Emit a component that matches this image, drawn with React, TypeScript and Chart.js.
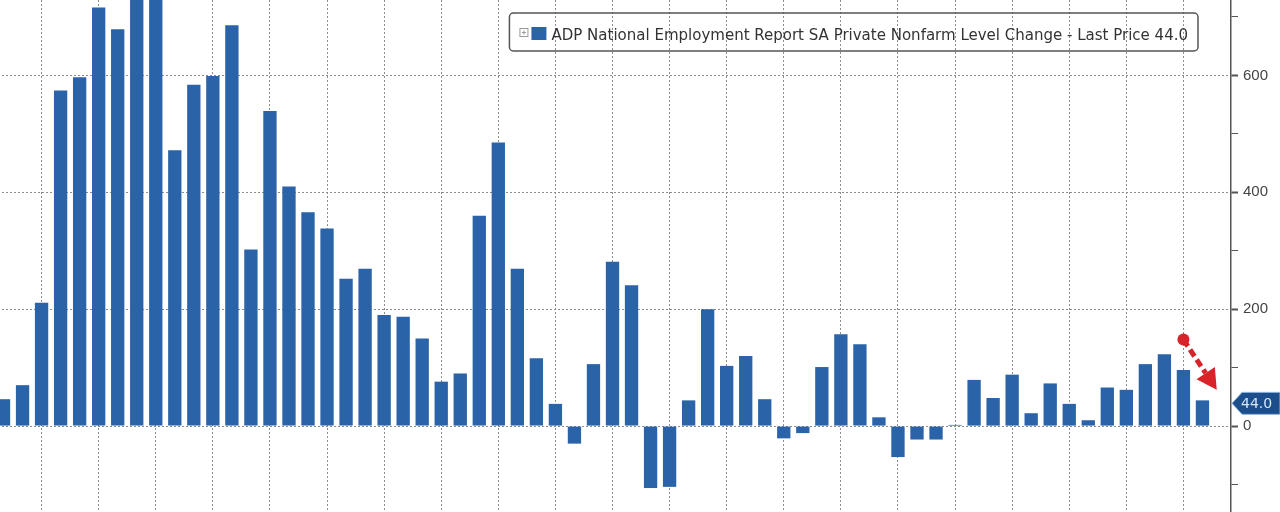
import React, { useEffect, useRef } from 'react';
import { Chart, registerables, Plugin } from 'chart.js';

Chart.register(...registerables);

// monthly slots; the last one is the empty slot Bloomberg leaves before the axis
const months = [
  'Nov 20', 'Dec 20',
  'Jan 21', 'Feb 21', 'Mar 21', 'Apr 21', 'May 21', 'Jun 21', 'Jul 21', 'Aug 21', 'Sep 21', 'Oct 21', 'Nov 21', 'Dec 21',
  'Jan 22', 'Feb 22', 'Mar 22', 'Apr 22', 'May 22', 'Jun 22', 'Jul 22', 'Aug 22', 'Sep 22', 'Oct 22', 'Nov 22', 'Dec 22',
  'Jan 23', 'Feb 23', 'Mar 23', 'Apr 23', 'May 23', 'Jun 23', 'Jul 23', 'Aug 23', 'Sep 23', 'Oct 23', 'Nov 23', 'Dec 23',
  'Jan 24', 'Feb 24', 'Mar 24', 'Apr 24', 'May 24', 'Jun 24', 'Jul 24', 'Aug 24', 'Sep 24', 'Oct 24', 'Nov 24', 'Dec 24',
  'Jan 25', 'Feb 25', 'Mar 25', 'Apr 25', 'May 25', 'Jun 25', 'Jul 25', 'Aug 25', 'Sep 25', 'Oct 25', 'Nov 25', 'Dec 25',
  'Jan 26', 'Feb 26', 'Mar 26',
];

// ADP private nonfarm level change, thousands
const privatePayrolls = [
  46, 70,
  211, 574, 597, 716, 679, 770, 760, 472, 584, 599, 686, 302,
  539, 410, 366, 338, 252, 269, 190, 187, 150, 76, 90, 360,
  485, 269, 116, 38, -30, 106, 281, 241, -106, -104, 44, 200,
  103, 120, 46, -21, -12, 101, 157, 140, 15, -53, -23, -23,
  2, 79, 48, 88, 22, 73, 38, 10, 66, 62, 106, 123,
  96, 44,
];

const yLabels = [0, 200, 400, 600];
const yMin = -147;
const yMax = 729;

const legendText = 'ADP National Employment Report SA Private Nonfarm Level Change - Last Price';

// red annotation arrow, in data units (category index, value)
const arrowStart = { x: 62, y: 148 };
const arrowEnd = { x: 63.75, y: 62 };

const BAR_BLUE = '#2a63a8';
const GRID = '#8c8c8c';
const RED = '#d8232a';

const overlay: Plugin<'bar'> = {
  id: 'overlay',
  afterDraw(chart) {
    const { ctx, chartArea: area, scales } = chart;
    const xs = scales.x;
    const ys = scales.y;
    const last = privatePayrolls[privatePayrolls.length - 1];
    ctx.save();

    // legend box, text sized to the reference width
    const label = `${legendText} ${last.toFixed(1)}`;
    const family = '"DejaVu Sans Condensed", "DejaVu Sans", sans-serif';
    ctx.font = `16px ${family}`;
    const size = Math.min(17, (16 * 637) / ctx.measureText(label).width);
    ctx.font = `${size.toFixed(2)}px ${family}`;
    const textW = Math.min(ctx.measureText(label).width, 637);
    const boxRight = area.right - 33;
    const textLeft = boxRight - 10 - textW;
    const boxLeft = textLeft - 42;
    ctx.beginPath();
    ctx.roundRect(boxLeft, 13, boxRight - boxLeft, 38, 4);
    ctx.lineWidth = 1.5;
    ctx.strokeStyle = '#555';
    ctx.stroke();

    ctx.lineWidth = 1;
    ctx.strokeStyle = '#999';
    ctx.strokeRect(textLeft - 31.5, 28.5, 8, 8);
    ctx.beginPath();
    ctx.moveTo(textLeft - 29.5, 32.5);
    ctx.lineTo(textLeft - 25.5, 32.5);
    ctx.moveTo(textLeft - 27.5, 30.5);
    ctx.lineTo(textLeft - 27.5, 34.5);
    ctx.stroke();

    ctx.fillStyle = BAR_BLUE;
    ctx.fillRect(textLeft - 20, 27, 15, 13);
    ctx.fillStyle = '#333';
    ctx.textAlign = 'left';
    ctx.textBaseline = 'alphabetic';
    ctx.fillText(label, textLeft, 40, textW);

    // last price tag on the axis
    const ty = ys.getPixelForValue(last) + 3;
    const tx = area.right + 1;
    ctx.beginPath();
    ctx.moveTo(tx, ty);
    ctx.lineTo(tx + 10, ty - 11);
    ctx.lineTo(chart.width, ty - 11);
    ctx.lineTo(chart.width, ty + 11);
    ctx.lineTo(tx + 10, ty + 11);
    ctx.closePath();
    ctx.fillStyle = '#1d4e8c';
    ctx.fill();
    ctx.lineWidth = 1;
    ctx.strokeStyle = '#8fb4e0';
    ctx.stroke();
    ctx.fillStyle = '#d6e6f7';
    ctx.font = '14px "DejaVu Sans", sans-serif';
    ctx.textBaseline = 'middle';
    ctx.fillText(last.toFixed(1), tx + 9, ty + 1);

    // red dashed arrow
    const sx = xs.getPixelForValue(arrowStart.x);
    const sy = ys.getPixelForValue(arrowStart.y);
    const ex = xs.getPixelForValue(arrowEnd.x);
    const ey = ys.getPixelForValue(arrowEnd.y);
    const ang = Math.atan2(ey - sy, ex - sx);
    const head = 20;
    const half = 11;
    const bx = ex - head * Math.cos(ang);
    const by = ey - head * Math.sin(ang);
    ctx.strokeStyle = RED;
    ctx.fillStyle = RED;
    ctx.lineWidth = 5;
    ctx.setLineDash([8, 4]);
    ctx.beginPath();
    ctx.moveTo(sx, sy);
    ctx.lineTo(bx, by);
    ctx.stroke();
    ctx.setLineDash([]);
    ctx.beginPath();
    ctx.arc(sx, sy, 6, 0, Math.PI * 2);
    ctx.fill();
    ctx.beginPath();
    ctx.moveTo(ex, ey);
    ctx.lineTo(bx + half * Math.sin(ang), by - half * Math.cos(ang));
    ctx.lineTo(bx - half * Math.sin(ang), by + half * Math.cos(ang));
    ctx.closePath();
    ctx.fill();

    ctx.restore();
  },
};

const AdpChart: React.FC = () => {
  const chartRef = useRef<HTMLCanvasElement>(null);

  useEffect(() => {
    const ctx = chartRef.current?.getContext('2d');
    if (!ctx) return;

    const chart = new Chart(ctx, {
      type: 'bar',
      data: {
        labels: months,
        datasets: [
          {
            label: legendText,
            data: privatePayrolls,
            backgroundColor: BAR_BLUE,
            barPercentage: 0.7,
            categoryPercentage: 1,
          },
        ],
      },
      options: {
        animation: false,
        responsive: true,
        maintainAspectRatio: false,
        layout: { padding: 0, autoPadding: false },
        plugins: {
          legend: { display: false },
          tooltip: { enabled: false },
        },
        scales: {
          x: {
            offset: true,
            grid: {
              offset: false,
              drawTicks: false,
              lineWidth: 1,
              color: (c) => (c.index % 3 === 2 ? GRID : 'transparent'),
            },
            border: { display: false, dash: [2, 2] },
            ticks: { display: false },
            afterFit: (s) => {
              s.height = 0;
            },
          },
          y: {
            position: 'right',
            min: yMin,
            max: yMax,
            grid: {
              lineWidth: 1,
              color: (c) => (c.tick && yLabels.includes(c.tick.value) ? GRID : 'transparent'),
              tickColor: '#555',
              tickWidth: (c) => (c.tick && yLabels.includes(c.tick.value) ? 2 : 1),
              tickLength: 7,
              tickBorderDash: [],
            },
            border: { display: true, color: '#555', width: 1.5, dash: [2, 2] },
            ticks: {
              stepSize: 100,
              includeBounds: false,
              padding: 5,
              color: '#444',
              font: { family: '"Liberation Sans", Arial, sans-serif', size: 15 },
              callback: (v) => (yLabels.includes(Number(v)) ? String(v) : ''),
            },
            afterFit: (s) => {
              s.width = 49;
              s.paddingTop = 0;
              s.paddingBottom = 0;
            },
          },
        },
      },
      plugins: [overlay],
    });

    return () => {
      chart.destroy();
    };
  }, []);

  return <canvas ref={chartRef} />;
};

export default function App() {
  return (
    <div
      style={{
        position: 'fixed',
        left: 0,
        top: 0,
        width: 1280,
        height: 512,
        overflow: 'hidden',
        background: '#fff',
      }}
    >
      <div style={{ position: 'absolute', left: -6, top: 0, width: 1286, height: 512 }}>
        <AdpChart />
      </div>
    </div>
  );
}
